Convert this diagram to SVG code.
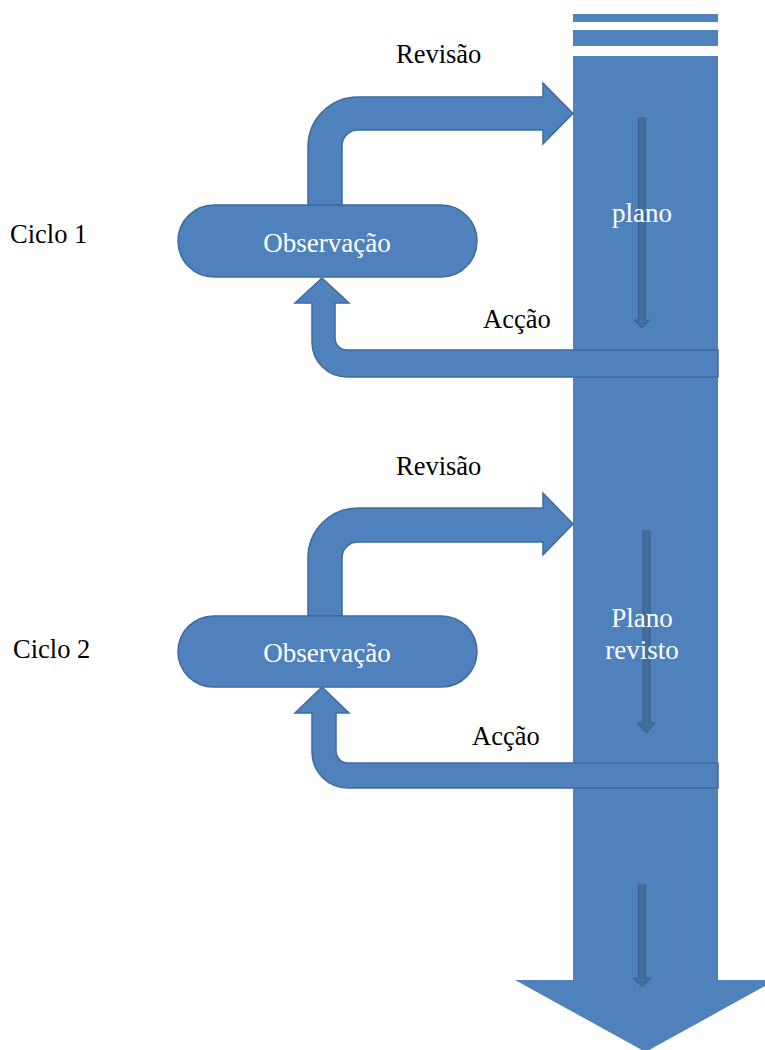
<svg xmlns="http://www.w3.org/2000/svg" width="765" height="1050" viewBox="0 0 765 1050">
  <style>
    .block { fill: #4F81BD; }
    .edge { fill: #4F81BD; stroke: #3E6A9E; stroke-width: 1.5; stroke-linejoin: miter; }
    .flow { fill: #41709F; stroke: #385D8A; stroke-width: 1; }
    .lbl { font-family: 'Liberation Serif', 'Times New Roman', serif; font-size: 26.5px; fill: #000; }
    .in { font-family: 'Liberation Serif', 'Times New Roman', serif; font-size: 27px; fill: #FFFFFF; text-anchor: middle; }
  </style>

  <rect width="765" height="1050" fill="#FFFFFF"/>

  <!-- Plan column with the downward head -->
  <g id="plan-column">
    <rect class="block" x="573" y="14" width="145" height="8"/>
    <rect class="block" x="573" y="30" width="145" height="16"/>
    <polygon class="block" points="573,56 718,56 718,980 776,980 645.5,1052 515,980 573,980"/>
    <!-- thin direction arrows inside the column -->
    <polygon class="flow" points="638.5,118 645.5,118 645.5,320 650,320 642,328 634,320 638.5,320"/>
    <polygon class="flow" points="643,531 650,531 650,723 655,723 646.5,733 637,723 643,723"/>
    <polygon class="flow" points="638.5,885 645.5,885 645.5,978 651,978 642,987 633,978 638.5,978"/>
    <text class="in" x="642" y="222">plano</text>
    <text class="in" x="642" y="627">Plano</text>
    <text class="in" x="642" y="659">revisto</text>
  </g>

  <!-- Cycle connectors: review goes up to the plan, action comes back to observation -->
  <g id="connectors">
    <path id="revisao-1" class="edge" d="M308,205 L308,147 A50,50 0 0 1 358,97 L543,97 L543,83 L573,113.5 L543,144 L543,130 L358,130 A16,16 0 0 0 342,146 L342,205 Z"/>
    <path id="accao-1" class="edge" d="M322,278 L349,303 L335,303 L335,338 A12,12 0 0 0 347,350 L718,350 L718,377 L347,377 A35,35 0 0 1 312,342 L312,303 L295,303 Z"/>
    <path id="revisao-2" class="edge" d="M308,616 L308,558 A50,50 0 0 1 358,508 L543,508 L543,493 L573,524 L543,555 L543,542 L358,542 A16,16 0 0 0 342,558 L342,616 Z"/>
    <path id="accao-2" class="edge" d="M322,687 L349,713 L336,713 L336,751 A12,12 0 0 0 348,763 L718,763 L718,788 L348,788 A36,36 0 0 1 312,752 L312,713 L295,713 Z"/>
  </g>

  <g id="observacao-1">
    <rect class="edge" x="178" y="205" width="299" height="72" rx="36" ry="36"/>
    <text class="in" x="327" y="252">Observação</text>
  </g>

  <g id="observacao-2">
    <rect class="edge" x="178" y="616" width="299" height="71" rx="35.5" ry="35.5"/>
    <text class="in" x="327" y="662">Observação</text>
  </g>

  <g id="labels">
    <text class="lbl" x="396" y="63">Revisão</text>
    <text class="lbl" x="483" y="328">Acção</text>
    <text class="lbl" x="10" y="243">Ciclo 1</text>
    <text class="lbl" x="396" y="475">Revisão</text>
    <text class="lbl" x="472" y="745">Acção</text>
    <text class="lbl" x="13" y="658">Ciclo 2</text>
  </g>
</svg>
